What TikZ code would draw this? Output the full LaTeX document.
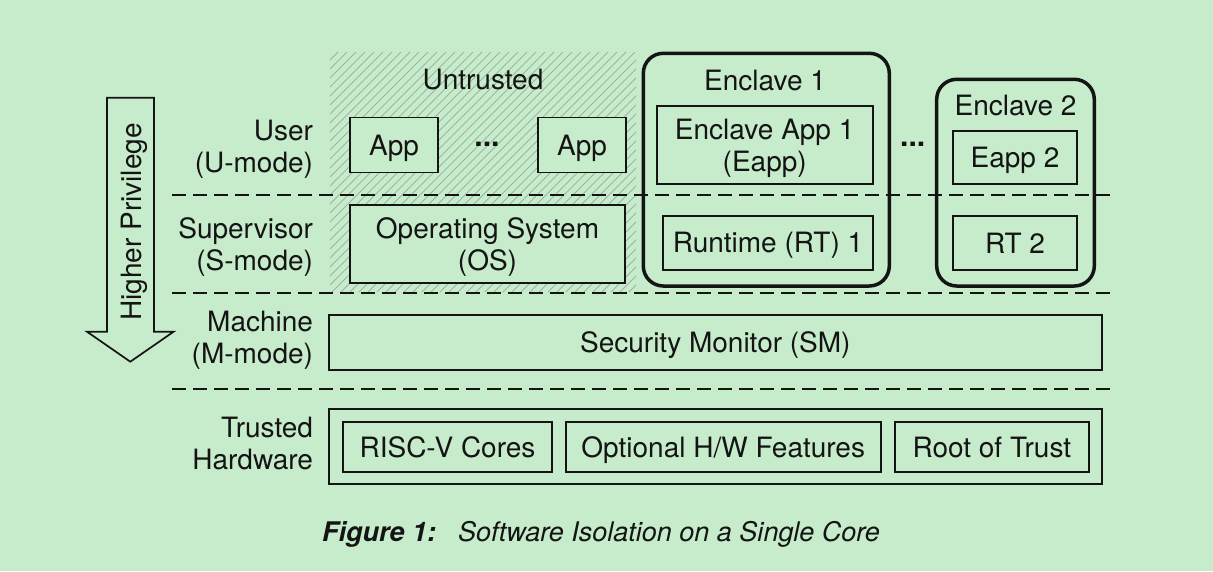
\documentclass[tikz,border=0pt]{standalone}
\usepackage{fontspec}
\setmainfont{TeX Gyre Heros}
\definecolor{bg}{RGB}{198,236,203}
\definecolor{hatchc}{RGB}{158,180,160}
\definecolor{ink}{RGB}{20,20,20}
\begin{document}
\begin{tikzpicture}[x=1pt,y=-1pt,
  every node/.style={font=\fontsize{28}{33}\selectfont, text=ink, inner sep=0pt, outer sep=0pt},
  box/.style={draw=ink, line width=1.7pt, fill=bg, rectangle},
  encl/.style={draw=ink, line width=3.5pt, rounded corners=20pt, rectangle},
  one/.style={text height=20pt, text depth=0pt},
  lbl/.style={one, anchor=east},
  sep/.style={draw=ink, line width=1.7pt, dash pattern=on 14pt off 7pt},
  dots/.style={font=\fontsize{30}{33}\selectfont\bfseries, anchor=base}]

\fill[bg] (0,0) rectangle (1213,571);
\useasboundingbox (0,0) rectangle (1213,571);

% hatched untrusted region
\begin{scope}
  \clip (330,52) rectangle (636,292);
  \foreach \k in {0,...,70} \draw[hatchc, line width=0.75pt] ({80+\k*9},292) -- ++(250,-250);
\end{scope}

% dashed separators
\coordinate (d1a) at (172,195);  \coordinate (d1b) at (1110,195);
\coordinate (d2a) at (172,293);  \coordinate (d2b) at (1110,293);
\coordinate (d3a) at (172,389);  \coordinate (d3b) at (1110,389);
\draw[sep] (d1a) -- (d1b);
\draw[sep] (d2a) -- (d2b);
\draw[sep] (d3a) -- (d3b);

% arrow
\draw[ink, line width=1.7pt, line join=miter]
  (107,97.7) -- (154,97.7) -- (154,331.7) -- (173.6,331.7) -- (130.3,361.7)
  -- (87,331.7) -- (107,331.7) -- cycle;
\node[one, rotate=90] (priv) at (131,222) {Higher Privilege};

% row labels
\node[lbl] (lu1) at (313,130) {User};
\node[lbl] (lu2) at (313,162) {(U-mode)};
\node[lbl] (ls1) at (313,228) {Supervisor};
\node[lbl] (ls2) at (313,260) {(S-mode)};
\node[lbl] (lm1) at (313,321) {Machine};
\node[lbl] (lm2) at (313,353) {(M-mode)};
\node[lbl] (lh1) at (313,427) {Trusted};
\node[lbl] (lh2) at (313,459) {Hardware};

% untrusted
\node[one] (untr) at (483,79) {Untrusted};
\node[box, one, minimum width=88pt, minimum height=55pt] (app1) at (394,145) {App};
\node[box, one, minimum width=88pt, minimum height=55pt] (app2) at (582,145) {App};
\node[dots] (dotsa) at (487,146) {...};
\node[box, minimum width=275pt, minimum height=78pt] (os) at (487.5,244) {};
\node[one] (os1) at (487.5,228) {Operating System};
\node[one] (os2) at (487.5,260) {(OS)};

% enclave 1
\node[encl, minimum width=246pt, minimum height=232.7pt] (enc1) at (766.3,169.65) {};
\node[one] (enc1t) at (765,80.3) {Enclave 1};
\node[box, minimum width=216pt, minimum height=78.6pt] (eapp1) at (764.7,145) {};
\node[one] (eapp1a) at (764.7,129.5) {Enclave App 1};
\node[one] (eapp1b) at (764.7,161.5) {(Eapp)};
\node[box, one, minimum width=209.4pt, minimum height=54.3pt] (rt1) at (768,242.85) {Runtime (RT) 1};

\node[dots] (dotsb) at (912.7,146) {...};

% enclave 2
\node[encl, minimum width=157.6pt, minimum height=206.7pt] (enc2) at (1015.5,182.65) {};
\node[one] (enc2t) at (1015.5,105.3) {Enclave 2};
\node[box, one, minimum width=123.4pt, minimum height=53.6pt] (eapp2) at (1015,157.5) {Eapp 2};
\node[box, one, minimum width=123.4pt, minimum height=54pt] (rt2) at (1015,243) {RT 2};

% machine
\node[box, one, minimum width=772.7pt, minimum height=55pt] (sm) at (715.35,342.5) {Security Monitor (SM)};

% hardware
\node[box, minimum width=772.7pt, minimum height=75pt] (hw) at (715.35,446.8) {};
\node[box, one, minimum width=209.6pt, minimum height=50pt] (risc) at (447.5,447.3) {RISC-V Cores};
\node[box, one, minimum width=315pt, minimum height=50pt] (opt) at (723.2,447.3) {Optional H/W Features};
\node[box, one, minimum width=194.3pt, minimum height=50pt] (root) at (991.85,447.3) {Root of Trust};

% caption
\node[anchor=base west, font=\fontsize{27}{32}\selectfont] (cap) at (322,541.7)
  {\textbf{\textit{Figure 1:}}\hspace{22pt}\textit{Software Isolation on a Single Core}};
\end{tikzpicture}
\end{document}
